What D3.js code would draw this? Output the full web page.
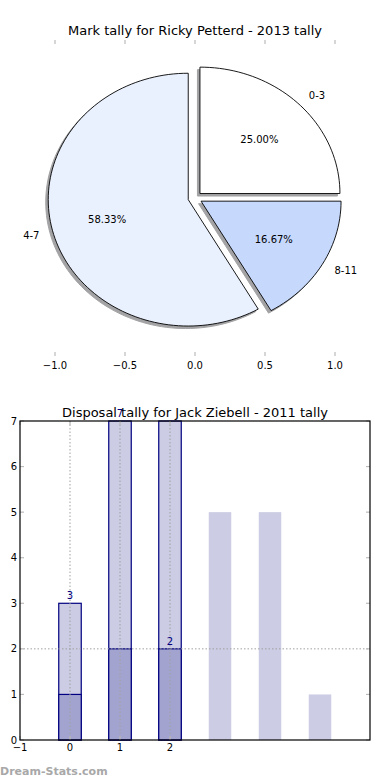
<!DOCTYPE html>
<html>
<head>
<meta charset="utf-8">
<script src="https://cdn.jsdelivr.net/npm/d3@7"></script>
<style>
  html, body { margin: 0; padding: 0; background: #fff; }
  svg { display: block; font-family: "DejaVu Sans", sans-serif; }
</style>
</head>
<body>
<svg id="chart" width="390" height="780"></svg>
<script>
// ---------- data ----------
const pieTitle = "Mark tally for Ricky Petterd - 2013 tally";
const pieLabels = ["0-3", "4-7", "8-11"];
const pieValues = [3, 7, 2];
const pieColors = ["#ffffff", "#eaf1fe", "#c6d9fd"];
const pieExplode = [0.05, 0.05, 0.05];
const pieTicks = [-1.0, -0.5, 0.0, 0.5, 1.0];

const barTitle = "Disposal tally for Jack Ziebell - 2011 tally";
const barPositions = [0, 1, 2];
const barTotals = [3, 7, 7];
const barDark = [1, 2, 2];
const otherPositions = [3, 4, 5];
const otherValues = [5, 5, 1];
const labelPositions = [0, 1, 2];
const labelValues = [3, 7, 2];
const averageValue = 2;
const barXTicks = [-1, 0, 1, 2];
const barYTicks = [0, 1, 2, 3, 4, 5, 6, 7];

const svg = d3.select("#chart");
const fmtMinus = s => s.replace("-", "\u2212");

// ---------- pie ----------
const px = d3.scaleLinear().domain([-1.25, 1.25]).range([20, 370]);
const py = d3.scaleLinear().domain([-1.25, 1.25]).range([356, 40]);

svg.append("text").attr("x", 195).attr("y", 35).attr("text-anchor", "middle")
  .attr("font-size", 13).attr("fill", "#000").text(pieTitle);

const tickG = svg.append("g");
pieTicks.forEach(t => {
  tickG.append("line").attr("x1", px(t)).attr("x2", px(t)).attr("y1", 40).attr("y2", 44)
    .attr("stroke", "#bbb").attr("stroke-width", 1.2);
  tickG.append("line").attr("x1", px(t)).attr("x2", px(t)).attr("y1", 356).attr("y2", 352)
    .attr("stroke", "#bbb").attr("stroke-width", 1.2);
  tickG.append("text").attr("x", px(t)).attr("y", 369).attr("text-anchor", "middle")
    .attr("font-size", 10).attr("fill", "#000").text(fmtMinus(t.toFixed(1)));
});

const total = d3.sum(pieValues);
let acc = 0;
const wedges = pieValues.map((v, i) => {
  const t1 = acc / total * 360;
  acc += v;
  const t2 = acc / total * 360;
  const mid = (t1 + t2) / 2 * Math.PI / 180;
  const cx = pieExplode[i] * Math.cos(mid), cy = pieExplode[i] * Math.sin(mid);
  const pts = [[cx, cy]];
  const n = Math.max(8, Math.ceil((t2 - t1) / 2));
  for (let k = 0; k <= n; k++) {
    const a = (t1 + (t2 - t1) * k / n) * Math.PI / 180;
    pts.push([cx + Math.cos(a), cy + Math.sin(a)]);
  }
  return { i, v, mid, cx, cy, pts };
});

const line = d3.line().x(d => px(d[0])).y(d => py(d[1]));
const pieG = svg.append("g");
wedges.forEach(w => {
  pieG.append("path").attr("d", line(w.pts) + "Z")
    .attr("transform", "translate(-2.5,2.5)")
    .attr("fill", "#a3a3a5").attr("stroke", "#a3a3a5").attr("stroke-width", 1);
});
wedges.forEach(w => {
  pieG.append("path").attr("d", line(w.pts) + "Z")
    .attr("fill", pieColors[w.i]).attr("stroke", "#000").attr("stroke-width", 0.9)
    .attr("stroke-linejoin", "miter");
});
wedges.forEach(w => {
  const lx = w.cx + 1.1 * Math.cos(w.mid), ly = w.cy + 1.1 * Math.sin(w.mid);
  svg.append("text").attr("x", px(lx)).attr("y", py(ly)).attr("dy", "0.35em")
    .attr("text-anchor", lx > 0 ? "start" : "end")
    .attr("font-size", 10).attr("fill", "#000").text(pieLabels[w.i]);
  const qx = w.cx + 0.6 * Math.cos(w.mid), qy = w.cy + 0.6 * Math.sin(w.mid);
  svg.append("text").attr("x", px(qx)).attr("y", py(qy)).attr("dy", "0.35em")
    .attr("text-anchor", "middle")
    .attr("font-size", 10).attr("fill", "#000").text((w.v / total * 100).toFixed(2) + "%");
});

// ---------- bars ----------
const L = 20, R = 370, T = 421, B = 740;
const bx = d3.scaleLinear().domain([-1, 6]).range([L, R]);
const by = d3.scaleLinear().domain([0, 7]).range([B, T]);
const bw = 0.45;

const barG = svg.append("g");
otherPositions.forEach((p, i) => {
  barG.append("rect").attr("x", bx(p - bw / 2)).attr("width", bx(bw) - bx(0))
    .attr("y", by(otherValues[i])).attr("height", by(0) - by(otherValues[i]))
    .attr("fill", "#ccccE5");
});
barPositions.forEach((p, i) => {
  barG.append("rect").attr("x", bx(p - bw / 2)).attr("width", bx(bw) - bx(0))
    .attr("y", by(barTotals[i])).attr("height", by(0) - by(barTotals[i]))
    .attr("fill", "#ccccE5").attr("stroke", "#000080").attr("stroke-width", 1.2);
  barG.append("rect").attr("x", bx(p - bw / 2)).attr("width", bx(bw) - bx(0))
    .attr("y", by(barDark[i])).attr("height", by(0) - by(barDark[i]))
    .attr("fill", "#a3a3cf").attr("stroke", "#000080").attr("stroke-width", 1.2);
});

barXTicks.filter(t => t > -1).forEach(t => {
  barG.append("line").attr("x1", bx(t)).attr("x2", bx(t)).attr("y1", T).attr("y2", B)
    .attr("stroke", "#a0a0a0").attr("stroke-width", 1).attr("stroke-dasharray", "1.5,2");
});
barG.append("line").attr("x1", L).attr("x2", R).attr("y1", by(averageValue)).attr("y2", by(averageValue))
  .attr("stroke", "#a0a0a0").attr("stroke-width", 1).attr("stroke-dasharray", "1.5,2");

barYTicks.forEach(t => {
  barG.append("line").attr("x1", L).attr("x2", L + 4).attr("y1", by(t)).attr("y2", by(t))
    .attr("stroke", "#bbb").attr("stroke-width", 1.2);
  barG.append("line").attr("x1", R).attr("x2", R - 4).attr("y1", by(t)).attr("y2", by(t))
    .attr("stroke", "#bbb").attr("stroke-width", 1.2);
  svg.append("text").attr("x", L - 3).attr("y", by(t)).attr("dy", "0.35em")
    .attr("text-anchor", "end").attr("font-size", 10).attr("fill", "#000").text(t);
});
barXTicks.forEach(t => {
  barG.append("line").attr("x1", bx(t)).attr("x2", bx(t)).attr("y1", B).attr("y2", B - 4)
    .attr("stroke", "#bbb").attr("stroke-width", 1.2);
  barG.append("line").attr("x1", bx(t)).attr("x2", bx(t)).attr("y1", T).attr("y2", T + 4)
    .attr("stroke", "#bbb").attr("stroke-width", 1.2);
  svg.append("text").attr("x", bx(t)).attr("y", B + 11).attr("text-anchor", "middle")
    .attr("font-size", 10).attr("fill", "#000").text(fmtMinus(String(t)));
});

svg.append("rect").attr("x", L).attr("y", T).attr("width", R - L).attr("height", B - T)
  .attr("fill", "none").attr("stroke", "#000").attr("stroke-width", 1.2);

svg.append("text").attr("x", 195).attr("y", 417).attr("text-anchor", "middle")
  .attr("font-size", 13).attr("fill", "#000").text(barTitle);

labelPositions.forEach((p, i) => {
  svg.append("text").attr("x", bx(p)).attr("y", by(labelValues[i]) - 4)
    .attr("text-anchor", "middle").attr("font-size", 10).attr("fill", "#000080")
    .text(labelValues[i]);
});

svg.append("text").attr("x", 0).attr("y", 775).attr("font-size", 11)
  .attr("font-weight", "bold").attr("fill", "#a8a8a8").text("Dream-Stats.com");
</script>
</body>
</html>
